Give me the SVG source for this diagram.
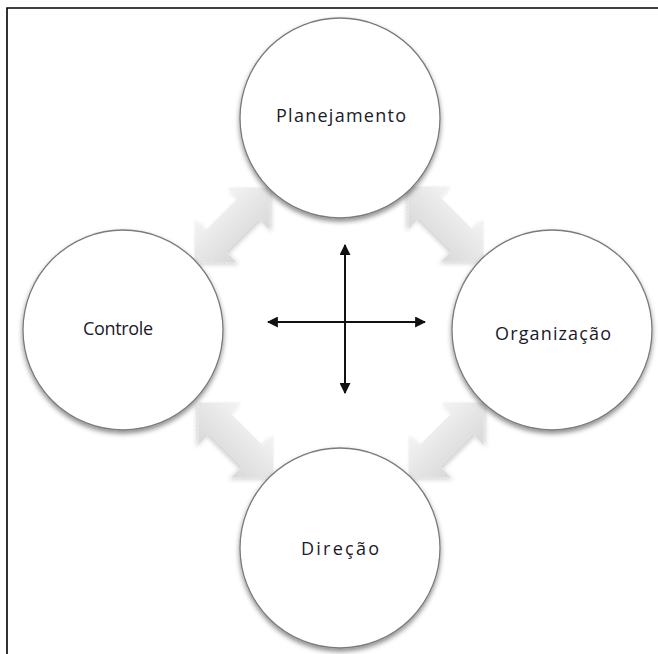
<svg xmlns="http://www.w3.org/2000/svg" width="658" height="654" viewBox="0 0 658 654">
<style>
.frame{stroke:#000;stroke-width:1.6;fill:none}
.node circle{fill:#fff;stroke:#7a7a7a;stroke-width:1.3;filter:url(#shadow)}
.label{font-family:"Open Sans","Liberation Sans",sans-serif;font-size:18px;fill:#1a1a2a;text-anchor:middle}
.cross{stroke:#111;stroke-width:2;fill:none;marker-start:url(#tip);marker-end:url(#tip)}
.gray{fill:url(#ga);filter:url(#ashadow)}
</style>
<defs>
<filter id="shadow" x="-20%" y="-20%" width="140%" height="150%">
<feGaussianBlur in="SourceAlpha" stdDeviation="2.5"/>
<feOffset dx="0" dy="3" result="b"/>
<feFlood flood-color="#000" flood-opacity="0.45"/>
<feComposite in2="b" operator="in"/>
<feMerge><feMergeNode/><feMergeNode in="SourceGraphic"/></feMerge>
</filter>
<filter id="ashadow" x="-30%" y="-30%" width="160%" height="160%">
<feGaussianBlur in="SourceAlpha" stdDeviation="2"/>
<feOffset dx="0" dy="3" result="b"/>
<feFlood flood-color="#000" flood-opacity="0.18"/>
<feComposite in2="b" operator="in"/>
<feMerge><feMergeNode/><feMergeNode in="SourceGraphic"/></feMerge>
</filter>
<linearGradient id="ga" x1="0" y1="0" x2="0" y2="1">
<stop offset="0" stop-color="#f4f4f4"/>
<stop offset="1" stop-color="#d8d8d8"/>
</linearGradient>
<path id="dbl" d="M-53,0 L-23,-30 L-23,-15 L23,-15 L23,-30 L53,0 L23,30 L23,15 L-23,15 L-23,30 Z"/>
<marker id="tip" viewBox="0 0 10 10" refX="9" refY="5" markerWidth="5.5" markerHeight="5.5" orient="auto-start-reverse">
<path d="M0,0 L10,5 L0,10 Z" fill="#111"/>
</marker>
</defs>
<rect width="658" height="654" fill="#fff"/>
<path class="frame" d="M7,654 L7,8 L658,8"/>
<g id="connectors">
<use href="#dbl" class="gray" transform="translate(232,225) rotate(-45)"/>
<use href="#dbl" class="gray" transform="translate(446,224) rotate(45)"/>
<use href="#dbl" class="gray" transform="translate(236,440) rotate(45)"/>
<use href="#dbl" class="gray" transform="translate(446,440) rotate(-45)"/>
<line class="cross" x1="345" y1="393" x2="345" y2="245"/>
<line class="cross" x1="268" y1="322" x2="425" y2="322"/>
</g>
<g id="planejamento" class="node">
<circle cx="340" cy="118" r="100"/>
<text class="label" x="341" y="122" textLength="130" lengthAdjust="spacing">Planejamento</text>
</g>
<g id="organizacao" class="node">
<circle cx="552" cy="330" r="100"/>
<text class="label" x="553" y="340" textLength="116" lengthAdjust="spacing">Organização</text>
</g>
<g id="controle" class="node">
<circle cx="123" cy="330" r="100"/>
<text class="label" x="118" y="335" textLength="70" lengthAdjust="spacing">Controle</text>
</g>
<g id="direcao" class="node">
<circle cx="340" cy="548" r="100"/>
<text class="label" x="340" y="555" textLength="78" lengthAdjust="spacing">Direção</text>
</g>
</svg>
